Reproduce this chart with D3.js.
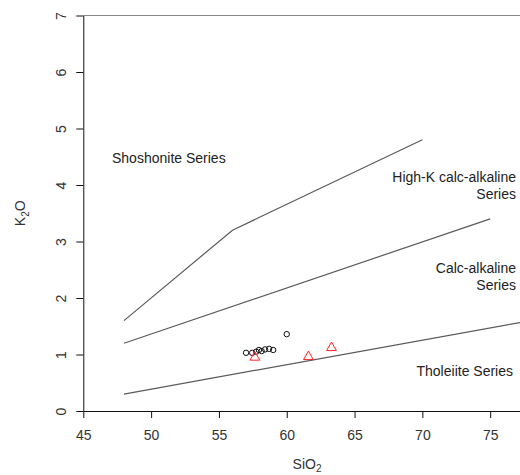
<!DOCTYPE html>
<html>
<head>
<meta charset="utf-8">
<script src="https://cdn.jsdelivr.net/npm/d3@7"></script>
<style>
  body { margin: 0; background: #fff; }
  text { font-family: "Liberation Sans", Arial, sans-serif; }
</style>
</head>
<body>
<svg id="chart" width="520" height="475"></svg>
<script>
// K2O vs SiO2 classification (Peccerillo & Taylor style)
const xTicks = [45, 50, 55, 60, 65, 70, 75];
const yTicks = [0, 1, 2, 3, 4, 5, 6, 7];

// boundary lines, [SiO2, K2O]
const shoshoniteLine = [[48, 1.6], [56, 3.2], [70, 4.8]];
const highKLine = [[48, 1.2], [75, 3.4]];
const tholeiiteLine = [[48, 0.3], [78, 1.6]];

// samples
const circleSiO2 = [57.0, 57.45, 57.75, 57.95, 58.15, 58.4, 58.7, 59.0, 60.0];
const circleK2O = [1.03, 1.03, 1.05, 1.08, 1.06, 1.09, 1.1, 1.08, 1.36];
const triSiO2 = [57.65, 61.6, 63.3];
const triK2O = [0.95, 0.96, 1.12];

const fieldLabels = [
  { lines: ["Shoshonite Series"], x: 112, y: 158, anchor: "start" },
  { lines: ["High-K calc-alkaline", "Series"], x: 516, y: 177, anchor: "end" },
  { lines: ["Calc-alkaline", "Series"], x: 516, y: 268, anchor: "end" },
  { lines: ["Tholeiite Series"], x: 513, y: 371, anchor: "end" }
];

const svg = d3.select("#chart");

const x = d3.scaleLinear().domain([45, 80]).range([83.3, 558]);
const y = d3.scaleLinear().domain([0, 7]).range([411, 15.5]);

// top line at K2O = 7
svg.append("line")
  .attr("x1", x(45)).attr("x2", x(80))
  .attr("y1", y(7)).attr("y2", y(7))
  .attr("stroke", "#888").attr("stroke-width", 1.2);

// axes
const xAxis = svg.append("g")
  .attr("transform", `translate(0,${y(0)})`)
  .call(d3.axisBottom(x).tickValues(xTicks).tickSize(7).tickPadding(12).tickSizeOuter(0));
const yAxis = svg.append("g")
  .attr("transform", `translate(${x(45)},0)`)
  .call(d3.axisLeft(y).tickValues(yTicks).tickFormat(d3.format("d")).tickSize(7).tickSizeOuter(0));

[xAxis, yAxis].forEach(g => {
  g.select(".domain").attr("stroke", "#111");
  g.selectAll(".tick line").attr("stroke", "#111");
  g.selectAll("text")
    .style("font-family", "'Liberation Sans', Arial, sans-serif")
    .style("font-size", "14px")
    .attr("fill", "#333");
});

yAxis.selectAll(".tick text")
  .attr("x", 0).attr("dy", 0)
  .attr("text-anchor", "middle")
  .attr("transform", "translate(-22,0) rotate(-90)")
  .attr("dominant-baseline", "central");

// axis titles
const xt = svg.append("text")
  .attr("x", 307).attr("y", 469)
  .attr("text-anchor", "middle")
  .style("font-size", "14px").attr("fill", "#333");
xt.append("tspan").text("SiO");
xt.append("tspan").text("2").attr("dy", 3).style("font-size", "10px");

const yt = svg.append("text")
  .attr("transform", `translate(25,${y(3.5)}) rotate(-90)`)
  .attr("text-anchor", "middle")
  .style("font-size", "14px").attr("fill", "#333");
yt.append("tspan").text("K");
yt.append("tspan").text("2").attr("dy", 4).style("font-size", "10px");
yt.append("tspan").text("O").attr("dy", -4);

// boundary lines
const line = d3.line().x(d => x(d[0])).y(d => y(d[1]));
[shoshoniteLine, highKLine, tholeiiteLine].forEach(pts => {
  svg.append("path")
    .attr("d", line(pts))
    .attr("fill", "none")
    .attr("stroke", "#5a5a5a")
    .attr("stroke-width", 1.2);
});

// field labels
fieldLabels.forEach(lab => {
  lab.lines.forEach((t, i) => {
    svg.append("text")
      .attr("x", lab.x).attr("y", lab.y + i * 16.5)
      .attr("text-anchor", lab.anchor)
      .attr("dominant-baseline", "central")
      .style("font-size", "14px")
      .attr("fill", "#222")
      .text(t);
  });
});

// samples: circles
svg.append("g").selectAll("circle")
  .data(circleSiO2.map((s, i) => [s, circleK2O[i]]))
  .join("circle")
  .attr("cx", d => x(d[0])).attr("cy", d => y(d[1]))
  .attr("r", 2.7)
  .attr("fill", "none").attr("stroke", "#111").attr("stroke-width", 1);

// samples: triangles
const tri = d3.symbol().type(d3.symbolTriangle).size(42);
svg.append("g").selectAll("path")
  .data(triSiO2.map((s, i) => [s, triK2O[i]]))
  .join("path")
  .attr("d", tri)
  .attr("transform", d => `translate(${x(d[0])},${y(d[1])})`)
  .attr("fill", "none").attr("stroke", "#f22").attr("stroke-width", 1);
</script>
</body>
</html>
